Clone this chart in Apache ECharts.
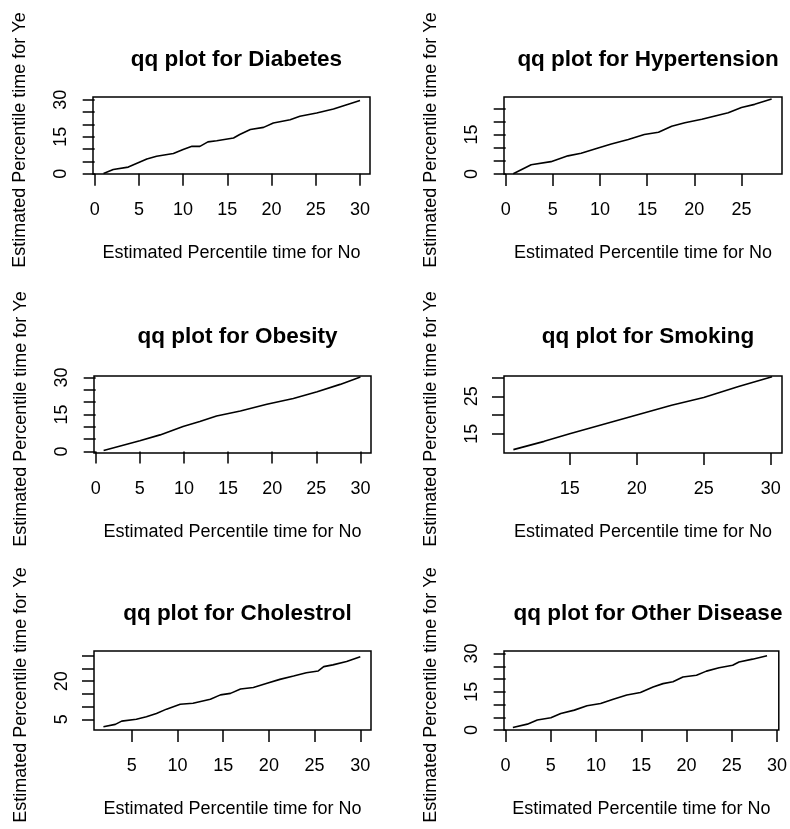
<!DOCTYPE html>
<html>
<head>
<meta charset="utf-8">
<script src="https://cdn.jsdelivr.net/npm/echarts@6/dist/echarts.min.js"></script>
<style>
    html, body {margin: 0; padding: 0; background: #fff;}
    #main {width: 790px; height: 829px;}
</style>
</head>
<body>
<div id="main"></div>
<script>
// panel names, left to right, top to bottom
const panelNames = ['Diabetes', 'Hypertension', 'Obesity', 'Smoking', 'Cholestrol', 'Other Disease']

// qq points: percentile time for No (x) vs for Yes (y)
const diabetesNo = [1.0, 2.1, 3.8, 5.9, 7.0, 8.9, 10.0, 11.0, 11.9, 12.8, 13.8, 15.7, 16.4, 17.6, 19.1, 20.2, 22.1, 23.2, 25.1, 27.0, 28.5, 30.0]
const diabetesYes = [0.1, 1.7, 2.7, 6.0, 7.1, 8.2, 9.8, 11.1, 11.1, 12.9, 13.4, 14.5, 15.9, 17.9, 18.8, 20.6, 21.9, 23.3, 24.6, 26.2, 28.0, 29.7]

const hypertensionNo = [0.8, 2.7, 4.8, 6.6, 8.0, 9.8, 11.2, 13.0, 14.7, 16.2, 17.6, 19.0, 20.8, 22.2, 23.6, 25.0, 26.4, 28.2]
const hypertensionYes = [0.1, 3.5, 4.7, 6.9, 7.9, 9.9, 11.4, 13.1, 15.0, 15.9, 18.2, 19.5, 20.8, 22.1, 23.3, 25.3, 26.5, 28.5]

const obesityNo = [0.9, 5.0, 7.3, 9.9, 11.8, 13.7, 16.4, 19.4, 22.4, 25.1, 27.7, 30.0]
const obesityYes = [0.4, 4.3, 6.7, 10.1, 12.1, 14.4, 16.4, 19.1, 21.5, 24.2, 27.2, 30.2]

const smokingNo = [10.8, 13.1, 15.0, 17.4, 20.0, 22.6, 25.0, 27.6, 30.1]
const smokingYes = [10.8, 13.0, 15.0, 17.4, 20.0, 22.6, 24.7, 27.6, 30.2]

const cholestrolNo = [1.9, 3.2, 3.9, 5.5, 6.6, 7.7, 8.8, 10.3, 11.7, 13.6, 14.7, 15.8, 16.9, 18.3, 19.8, 21.2, 22.7, 24.1, 25.4, 26.0, 27.0, 28.5, 30.0]
const cholestrolYes = [2.1, 3.0, 4.3, 5.0, 6.0, 7.3, 9.0, 10.9, 11.3, 12.9, 14.6, 15.2, 16.9, 17.5, 19.2, 20.7, 22.0, 23.3, 24.0, 25.7, 26.4, 27.7, 29.6]

const otherNo = [0.8, 2.4, 3.5, 5.0, 6.1, 7.6, 9.0, 10.5, 11.9, 13.4, 14.9, 16.3, 17.4, 18.5, 19.6, 21.1, 22.2, 23.6, 25.1, 25.8, 27.3, 28.9]
const otherYes = [1.0, 2.3, 3.9, 4.8, 6.5, 7.8, 9.5, 10.4, 12.1, 13.7, 14.7, 16.9, 18.2, 18.9, 20.8, 21.5, 23.1, 24.4, 25.4, 26.7, 27.8, 29.1]

const panelNo = [diabetesNo, hypertensionNo, obesityNo, smokingNo, cholestrolNo, otherNo]
const panelYes = [diabetesYes, hypertensionYes, obesityYes, smokingYes, cholestrolYes, otherYes]

// ticks and the labels R kept on them
const xTicks = [
    [0, 5, 10, 15, 20, 25, 30],
    [0, 5, 10, 15, 20, 25],
    [0, 5, 10, 15, 20, 25, 30],
    [15, 20, 25, 30],
    [5, 10, 15, 20, 25, 30],
    [0, 5, 10, 15, 20, 25, 30]
]
const yTicks = [
    [0, 5, 10, 15, 20, 25, 30],
    [0, 5, 10, 15, 20, 25],
    [0, 5, 10, 15, 20, 25, 30],
    [15, 20, 25, 30],
    [5, 10, 15, 20, 25, 30],
    [0, 5, 10, 15, 20, 25, 30]
]
const yLabels = [
    [0, 15, 30],
    [0, 15],
    [0, 15, 30],
    [15, 25],
    [5, 20],
    [0, 15, 30]
]

// axis extents (R adds 4% each side)
const xRange = [[-0.19, 31.13], [-0.18, 29.3], [-0.19, 31.2], [10.1, 30.84], [0.87, 31.17], [-0.18, 30.2]]
const yRange = [[-0.1, 31.1], [0, 29.3], [-0.65, 30.6], [9.9, 30.4], [0.8, 31.85], [0, 31.0]]

// plot boxes in px
const boxes = [
    {left: 93, top: 97, width: 277, height: 77},
    {left: 504, top: 97, width: 278, height: 77},
    {left: 94, top: 376, width: 277, height: 77},
    {left: 504, top: 376, width: 278, height: 77},
    {left: 94, top: 651, width: 277, height: 79},
    {left: 504, top: 651, width: 278, height: 79}
]
const titleMid = [54, 54, 331, 331, 608, 608]

const FONT = '"Liberation Sans", Arial, sans-serif'

let chart = echarts.init(document.getElementById('main'))

let grids = [], xAxes = [], yAxes = [], series = [], titles = []
for (let i = 0; i < 6; i++) {
    const b = boxes[i]
    grids.push({
        left: b.left, top: b.top, width: b.width, height: b.height,
        show: true, borderColor: '#000', borderWidth: 1.5, backgroundColor: 'transparent'
    })
    titles.push({
        text: 'qq plot for ' + panelNames[i],
        left: b.left + b.width / 2,
        top: titleMid[i] - 11,
        textAlign: 'center',
        textStyle: {fontFamily: FONT, fontSize: 22.5, fontWeight: 'bold', color: '#000'}
    })
    xAxes.push({
        type: 'value', gridIndex: i,
        min: xRange[i][0], max: xRange[i][1],
        name: 'Estimated Percentile time for No',
        nameLocation: 'middle', nameGap: 70,
        nameTextStyle: {fontFamily: FONT, fontSize: 18, color: '#000'},
        axisLine: {show: false},
        axisTick: {show: true, inside: false, length: 12, customValues: xTicks[i], lineStyle: {color: '#000', width: 1.5}},
        axisLabel: {customValues: xTicks[i], margin: 27, fontFamily: FONT, fontSize: 18, color: '#000'},
        splitLine: {show: false}
    })
    yAxes.push({
        type: 'value', gridIndex: i,
        min: yRange[i][0], max: yRange[i][1],
        name: 'Estimated Percentile time for Ye',
        nameLocation: 'middle', nameGap: 64,
        nameTextStyle: {fontFamily: FONT, fontSize: 18, color: '#000', padding: [0, 9, 0, 0]},
        axisLine: {show: false},
        axisTick: {show: true, inside: false, length: 12, customValues: yTicks[i], lineStyle: {color: '#000', width: 1.5}},
        axisLabel: {customValues: yLabels[i], rotate: 90, margin: 23, fontFamily: FONT, fontSize: 18, color: '#000'},
        splitLine: {show: false}
    })
    series.push({
        type: 'line',
        xAxisIndex: i, yAxisIndex: i,
        data: panelNo[i].map((v, k) => [v, panelYes[i][k]]),
        showSymbol: false,
        symbol: 'none',
        lineStyle: {color: '#000', width: 1.6},
        silent: true
    })
}

const option = {
    animation: false,
    backgroundColor: '#fff',
    title: titles,
    grid: grids,
    xAxis: xAxes,
    yAxis: yAxes,
    series: series
}
chart.setOption(option)
</script>
</body>
</html>
